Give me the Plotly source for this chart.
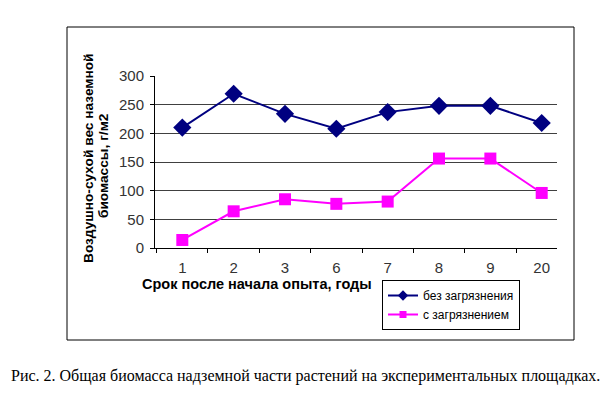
import plotly.graph_objects as go

categories = ["1", "2", "3", "6", "7", "8", "9", "20"]
clean = [210, 269, 234, 208, 237, 248, 248, 218]
polluted = [14, 64, 85, 77, 81, 156, 156, 96]
series_names = ["без загрязнения", "с загрязнением"]
y_ticks = [0, 50, 100, 150, 200, 250, 300]

OFF = 8  # default page body margin
W, H = 609 - OFF, 399 - OFF
# plot area in screen pixels: x 155..557, y 76..248
L, R, T, B = 155 - OFF, 609 - 557, 76 - OFF, 399 - 248
pw, ph = W - L - R, H - T - B

def px(x):
    return (x - OFF - L) / pw

def py(y):
    return (H - B - (y - OFF)) / ph

NAVY, MAG = "#000080", "#FF00FF"

fig = go.Figure()
fig.add_trace(go.Scatter(x=categories, y=clean, name=series_names[0], mode="lines+markers",
                         line=dict(color=NAVY, width=2), showlegend=False,
                         marker=dict(symbol="diamond", size=14, color=NAVY)))
fig.add_trace(go.Scatter(x=categories, y=polluted, name=series_names[1], mode="lines+markers",
                         line=dict(color=MAG, width=2), showlegend=False,
                         marker=dict(symbol="square", size=12, color=MAG)))
# legend entries with smaller symbols
fig.add_trace(go.Scatter(x=[None], y=[None], name=series_names[0], mode="lines+markers",
                         line=dict(color=NAVY, width=2),
                         marker=dict(symbol="diamond", size=8, color=NAVY)))
fig.add_trace(go.Scatter(x=[None], y=[None], name=series_names[1], mode="lines+markers",
                         line=dict(color=MAG, width=2),
                         marker=dict(symbol="square", size=7, color=MAG)))

fig.update_layout(
    template="none",
    width=W, height=H, margin=dict(l=L, r=R, t=T, b=B, autoexpand=False),
    paper_bgcolor="white", plot_bgcolor="white",
    font=dict(family="Liberation Sans, Arial", color="#222"),
    xaxis=dict(type="category", range=[-0.532, 7.298], showline=True, linecolor="#000", linewidth=1,
               ticks="outside", tickson="boundaries", ticklen=4, tickcolor="#000",
               showgrid=False, tickfont=dict(size=15, color="#333"), automargin=False,
               ticklabelstandoff=6),
    yaxis=dict(range=[0, 300], tickvals=y_ticks, showline=True, linecolor="#000", linewidth=1,
               ticks="outside", ticklen=4, tickcolor="#000", showgrid=True, gridcolor="#404040",
               gridwidth=1, zeroline=False, tickfont=dict(size=15, color="#333"), automargin=False,
               ticklabelstandoff=3),
    legend=dict(x=px(382), y=py(280), xanchor="left", yanchor="top",
                bordercolor="#000", borderwidth=1, bgcolor="white",
                font=dict(size=12, color="#000"), tracegroupgap=0, itemwidth=30),
    showlegend=True,
)

fig.add_shape(type="rect", xref="paper", yref="paper",
              x0=px(67), x1=px(574), y0=py(340), y1=py(27),
              line=dict(color="#000", width=1), fillcolor="rgba(0,0,0,0)", layer="below")

fig.add_annotation(xref="paper", yref="paper", x=px(257), y=py(284),
                   text="<b>Срок после начала опыта, годы</b>", showarrow=False,
                   font=dict(size=14.5, color="#000"), xanchor="center", yanchor="middle")
fig.add_annotation(xref="paper", yref="paper", x=px(88), y=py(158),
                   text="<b>Воздушно-сухой вес наземной</b>", showarrow=False,
                   textangle=-90, font=dict(size=13.7, color="#000"), xanchor="center", yanchor="middle")
fig.add_annotation(xref="paper", yref="paper", x=px(103), y=py(166),
                   text="<b>биомассы, г/м2</b>", showarrow=False,
                   textangle=-90, font=dict(size=13.7, color="#000"), xanchor="center", yanchor="middle")
fig.add_annotation(xref="paper", yref="paper", x=px(305), y=py(376),
                   text="Рис. 2. Общая биомасса надземной части растений на экспериментальных площадках.",
                   showarrow=False, font=dict(family="Liberation Serif, Times New Roman", size=16, color="#000"),
                   xanchor="center", yanchor="middle")

fig.write_html("out.html")
